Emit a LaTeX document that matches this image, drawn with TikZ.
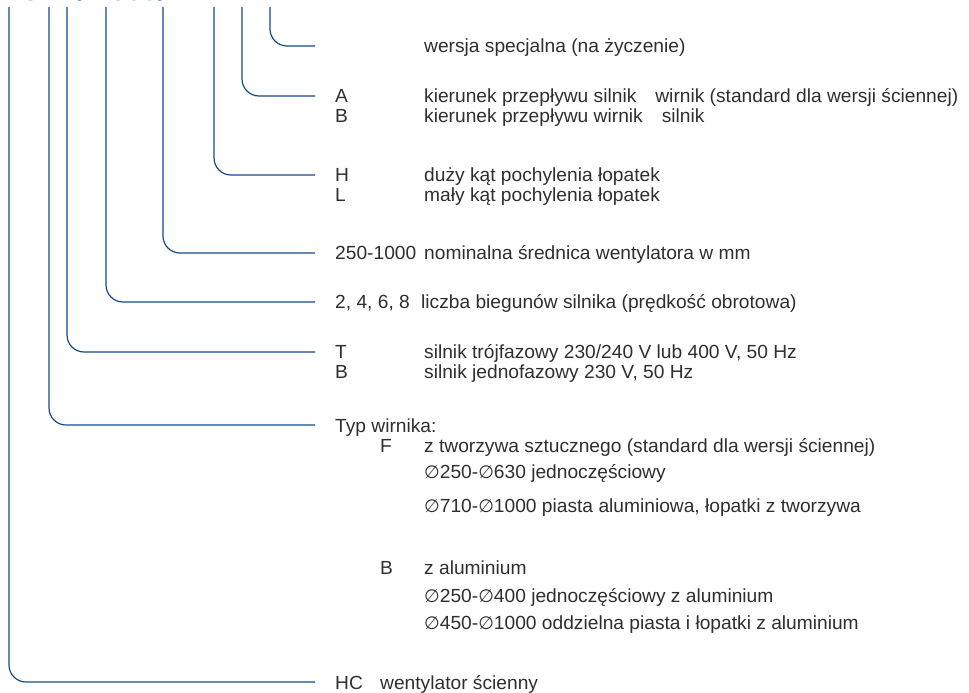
\documentclass[tikz,border=0pt]{standalone}
\usepackage{fontspec}
\setmainfont{Liberation Sans}[FakeStretch=1.01]
\newfontfamily\symfont{DejaVu Sans}
\usetikzlibrary{positioning}
\definecolor{lineblue}{HTML}{144B87}
\definecolor{codeblue}{HTML}{1B5FA6}
\definecolor{txtgray}{HTML}{2E2E2E}
\newcommand{\dia}{{\symfont\fontsize{18}{18}\selectfont ∅}}

\begin{document}
\begin{tikzpicture}[x=1pt, y=-1pt,
  conn/.style={lineblue, line width=1.2pt, rounded corners=17pt},
  lbl/.style={anchor=base west, inner sep=0pt, text=txtgray,
    font=\fontsize{19}{20}\selectfont},
  code/.style={anchor=base west, inner sep=0pt, text=codeblue,
    font=\fontsize{28}{28}\selectfont\bfseries}]
  \useasboundingbox (0,0) rectangle (969,693);

  % type code, cut off at the top edge
  \node[code] (kod) at (-1,0.5) {HCBT/4-500/HAE};

  % start points under the code
  \coordinate (sHC) at (9,7);
  \coordinate (sTyp) at (49,7);
  \coordinate (sFaz) at (67,7);
  \coordinate (sBieg) at (106,7);
  \coordinate (sSr) at (163,7);
  \coordinate (sKat) at (214,7);
  \coordinate (sKier) at (242,7);
  \coordinate (sSpec) at (270,7);

  % end points in front of the texts
  \coordinate (eSpec) at (315,46);
  \coordinate (eKier) at (315,96);
  \coordinate (eKat) at (315,175);
  \coordinate (eSr) at (315,253);
  \coordinate (eBieg) at (315,302);
  \coordinate (eFaz) at (315,352);
  \coordinate (eTyp) at (315,425);
  \coordinate (eHC) at (315,682);

  % special version
  \node[lbl] (spec) at (424,52.5) {wersja specjalna (na życzenie)};

  % flow direction
  \node[lbl] (kA) at (335,102.5) {A};
  \node[lbl] (kAt) at (424,102.5) {kierunek przepływu silnik\hspace{19pt}wirnik (standard dla wersji ściennej)};
  \node[lbl] (kB) at (335,122.5) {B};
  \node[lbl] (kBt) at (424,122.5) {kierunek przepływu wirnik\hspace{19pt}silnik};

  % blade angle
  \node[lbl] (kH) at (335,181.5) {H};
  \node[lbl] (kHt) at (424,181.5) {duży kąt pochylenia łopatek};
  \node[lbl] (kL) at (335,201.5) {L};
  \node[lbl] (kLt) at (424,201.5) {mały kąt pochylenia łopatek};

  % diameter and poles
  \node[lbl] (sr) at (335,259.5) {250-1000};
  \node[lbl] (srt) at (424,259.5) {nominalna średnica wentylatora w mm};
  \node[lbl] (bieg) at (335,308.5) {2, 4, 6, 8};
  \node[lbl] (biegt) at (421,308.5) {liczba biegunów silnika (prędkość obrotowa)};

  % motor
  \node[lbl] (fT) at (335,358.5) {T};
  \node[lbl] (fTt) at (424,358.5) {silnik trójfazowy 230/240 V lub 400 V, 50 Hz};
  \node[lbl] (fB) at (335,378.5) {B};
  \node[lbl] (fBt) at (424,378.5) {silnik jednofazowy 230 V, 50 Hz};

  % impeller
  \node[lbl] (typ) at (335,432) {Typ wirnika:};
  \node[lbl] (tF) at (380,452.5) {F};
  \node[lbl] (tFt) at (424,452.5) {z tworzywa sztucznego (standard dla wersji ściennej)};
  \node[lbl] (tF1) at (424,478.5) {\dia250-\dia630 jednoczęściowy};
  \node[lbl] (tF2) at (424,512) {\dia710-\dia1000 piasta aluminiowa, łopatki z tworzywa};
  \node[lbl] (tB) at (380,574.5) {B};
  \node[lbl] (tBt) at (424,574.5) {z aluminium};
  \node[lbl] (tB1) at (424,602) {\dia250-\dia400 jednoczęściowy z aluminium};
  \node[lbl] (tB2) at (424,629) {\dia450-\dia1000 oddzielna piasta i łopatki z aluminium};

  % fan type
  \node[lbl] (hc) at (335,689.5) {HC};
  \node[lbl] (hct) at (380,689.5) {wentylator ścienny};

  % connectors
  \draw[conn] (sSpec) |- (eSpec);
  \draw[conn] (sKier) |- (eKier);
  \draw[conn] (sKat) |- (eKat);
  \draw[conn] (sSr) |- (eSr);
  \draw[conn] (sBieg) |- (eBieg);
  \draw[conn] (sFaz) |- (eFaz);
  \draw[conn] (sTyp) |- (eTyp);
  \draw[conn] (sHC) |- (eHC);
\end{tikzpicture}
\end{document}
